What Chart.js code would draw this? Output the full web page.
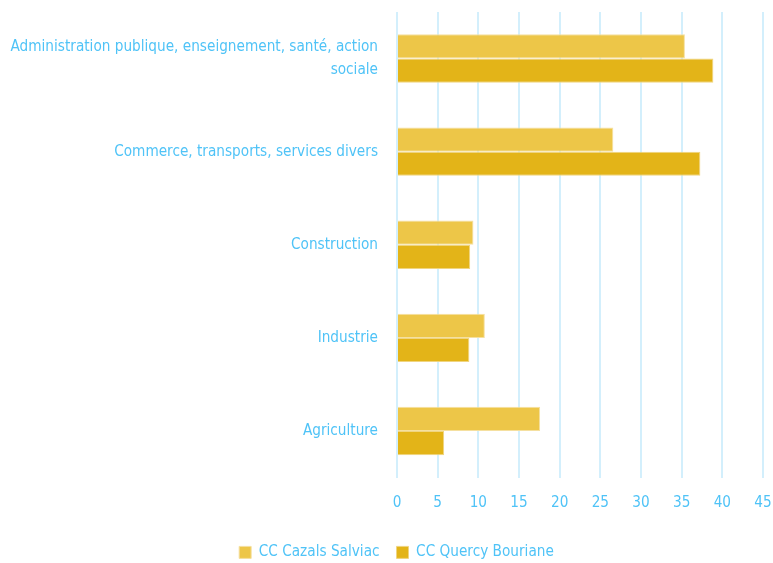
<!DOCTYPE html>
<html lang="fr">
<head>
  <meta charset="UTF-8" />
  <title>Emploi par secteur</title>
  <style>
    * { box-sizing: border-box; margin: 0; padding: 0; }
    body { background: #fff; width: 773px; height: 563px; overflow: hidden; }
    .wrap { position: relative; width: 773px; height: 563px; }
  </style>
</head>
<body>
  <div class="wrap"><canvas id="chart"></canvas></div>
  <script src="https://cdn.jsdelivr.net/npm/chart.js"></script>
  <script>
const categories = [
  ['Administration publique, enseignement, santé, action', 'sociale'],
  'Commerce, transports, services divers',
  'Construction',
  'Industrie',
  'Agriculture'
];
const cazals = [35.4, 26.6, 9.4, 10.8, 17.6];
const quercy = [38.9, 37.3, 9.0, 8.9, 5.8];
const seriesNames = ['CC Cazals Salviac', 'CC Quercy Bouriane'];

const textColor = '#4fc3f7';

// pick the narrowest installed font we can find
const probe = document.createElement('canvas').getContext('2d');
const sample = categories[0][0];
const widthOf = (fam) => { probe.font = '17px ' + fam; return probe.measureText(sample).width; };
const baseW = widthOf('monospace');
const candidates = ["'Liberation Sans Narrow'", "'DejaVu Sans Condensed'", "'Roboto Condensed'", "'Open Sans Condensed'", "Roboto"];
let fontFamily = 'sans-serif';
for (const c of candidates) {
  if (Math.abs(widthOf(c + ', monospace') - baseW) > 0.5) { fontFamily = c; break; }
}
// shrink so the long label spans about as wide as in the original
const labelSize = Math.min(17, 17 * 368 / widthOf(fontFamily));

// legend sits a bit right of the page centre in the original
const nudgeLegend = {
  id: 'nudgeLegend',
  afterLayout(chart) {
    chart.legend.left += 15;
    chart.legend.right += 15;
  }
};

new Chart(document.getElementById('chart'), {
  type: 'bar',
  data: {
    labels: categories,
    datasets: [
      {
        label: seriesNames[0],
        data: cazals,
        backgroundColor: '#edc648',
        borderColor: '#f5e0a0',
        borderWidth: 1,
        categoryPercentage: 0.52,
        barPercentage: 1
      },
      {
        label: seriesNames[1],
        data: quercy,
        backgroundColor: '#e3b418',
        borderColor: '#f0d580',
        borderWidth: 1,
        categoryPercentage: 0.52,
        barPercentage: 1
      }
    ]
  },
  options: {
    indexAxis: 'y',
    responsive: true,
    maintainAspectRatio: false,
    animation: false,
    layout: { padding: { top: 12, right: 10, bottom: -7 } },
    plugins: {
      legend: {
        position: 'bottom',
        labels: {
          color: textColor,
          font: { family: fontFamily, size: labelSize },
          boxWidth: 12,
          boxHeight: 12,
          padding: 17
        }
      },
      tooltip: { enabled: false }
    },
    scales: {
      x: {
        min: 0,
        max: 45,
        ticks: {
          stepSize: 5,
          color: textColor,
          font: { family: fontFamily, size: labelSize },
          padding: 16
        },
        grid: { color: '#d3effc', lineWidth: 2, drawTicks: false },
        border: { display: false },
        afterFit: (scale) => {
          scale.paddingLeft = 0;
          scale.paddingRight = 0;
        }
      },
      y: {
        ticks: {
          color: textColor,
          font: { family: fontFamily, size: labelSize, lineHeight: 1.55 },
          padding: 11
        },
        grid: { display: false },
        border: { display: false },
        afterFit: (scale) => {
          scale.width = 397;
          scale.paddingTop = 0;
          scale.paddingBottom = 0;
        }
      }
    }
  },
  plugins: [nudgeLegend]
});
  </script>
</body>
</html>
